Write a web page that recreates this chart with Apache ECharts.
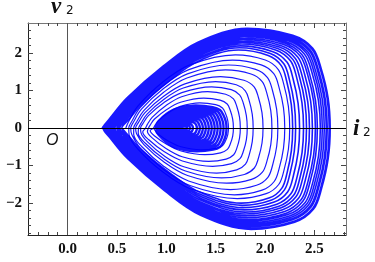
<!DOCTYPE html>
<html><head><meta charset="utf-8">
<script src="https://cdn.jsdelivr.net/npm/echarts@6/dist/echarts.min.js"></script>
<style>html,body{margin:0;padding:0;background:#fff}#c{width:375px;height:262px}</style>
</head><body><div id="c"></div>
<script>
// Loop extents of the trajectory (outer band, middle loops, core)
const iLeft = [0.35,0.36,0.37,0.375,0.385,0.40,0.41,0.42,0.435,0.45,0.465,0.48,0.50,0.515,0.53,0.55,
  0.59,0.62,0.64,0.67,0.69,0.72,0.74,0.79,0.82,0.87,
  0.89,0.91,0.93,0.95,0.97,0.99,1.01,1.03,1.05,1.07,1.09,1.11,1.13,1.15];
const iRight = [2.66,2.65,2.63,2.62,2.60,2.58,2.56,2.53,2.51,2.48,2.45,2.42,2.39,2.35,2.31,2.28,
  2.25,2.20,2.13,2.07,1.98,1.88,1.82,1.75,1.68,1.63,
  1.61,1.58,1.55,1.52,1.49,1.46,1.43,1.40,1.37,1.34,1.31,1.27,1.24,1.21];
const vTop = [2.66,2.63,2.60,2.57,2.54,2.51,2.47,2.44,2.40,2.36,2.32,2.28,2.24,2.19,2.14,2.08,
  1.95,1.81,1.68,1.55,1.37,1.24,1.10,0.97,0.80,0.67,
  0.60,0.56,0.52,0.48,0.44,0.40,0.36,0.32,0.27,0.22,0.17,0.12,0.08,0.04];
const vBottom = [-2.70,-2.67,-2.63,-2.60,-2.56,-2.52,-2.48,-2.44,-2.39,-2.34,-2.29,-2.24,-2.18,-2.12,-2.06,-2.00,
  -1.88,-1.78,-1.64,-1.47,-1.33,-1.20,-1.02,-0.89,-0.71,-0.58,
  -0.62,-0.57,-0.53,-0.48,-0.44,-0.40,-0.36,-0.31,-0.27,-0.22,-0.17,-0.12,-0.08,-0.04];
const iAtTop = [1.82,1.82,1.81,1.81,1.80,1.80,1.79,1.79,1.78,1.78,1.77,1.77,1.76,1.75,1.74,1.73,
  1.70,1.67,1.63,1.60,1.55,1.50,1.46,1.42,1.38,1.34,
  1.30,1.29,1.28,1.27,1.26,1.25,1.24,1.23,1.22,1.21,1.20,1.19,1.18,1.18];
const iAtBottom = [1.86,1.86,1.85,1.85,1.84,1.84,1.83,1.83,1.82,1.81,1.80,1.80,1.79,1.78,1.77,1.76,
  1.72,1.69,1.65,1.61,1.56,1.51,1.47,1.43,1.39,1.35,
  1.31,1.30,1.29,1.28,1.27,1.26,1.25,1.24,1.23,1.22,1.21,1.20,1.19,1.18];

const xMajorTicks = [0, 0.5, 1, 1.5, 2, 2.5];
const xMinorTicks = [-0.3,-0.2,-0.1,0.1,0.2,0.3,0.4,0.6,0.7,0.8,0.9,1.1,1.2,1.3,1.4,1.6,1.7,1.8,1.9,2.1,2.2,2.3,2.4,2.6,2.7,2.8];
const yMajorTicks = [-2, -1, 0, 1, 2];
const yMinorTicks = [-2.8,-2.6,-2.4,-2.2,-1.8,-1.6,-1.4,-1.2,-0.8,-0.6,-0.4,-0.2,0.2,0.4,0.6,0.8,1.2,1.4,1.6,1.8,2.2,2.4,2.6];

// one revolution through the read extents; sh = pointedness of the left end (shape only)
const rightShape = [[0.93,0.45],[0.8,0.21],[0.6,0.11],[0.3,0.025]];
function loopPoints(k, sh) {
  const L = iLeft[k], R = iRight[k], T = vTop[k], B = vBottom[k], tx = iAtTop[k], bx = iAtBottom[k];
  const up = [[L,0]], dn = [];
  [[0.1,sh[0]],[0.3,sh[1]],[0.62,sh[2]],[0.86,sh[3]]].forEach(([f,s]) => { up.push([L+s*(tx-L), f*T]); dn.unshift([L+s*(bx-L), f*B]); });
  const ru = rightShape.map(([f,s]) => [R-s*(R-tx), f*T]);
  const rd = rightShape.slice().reverse().map(([f,s]) => [R-s*(R-bx), f*B]);
  return up.concat([[tx,T]], ru, [[R,0]], rd, [[bx,B]], dn);
}
function path(from, to, sh) {
  let pts = [];
  for (let k = from; k < to; k++) pts = pts.concat(loopPoints(k, sh));
  pts.push([iLeft[to - 1], 0]);
  return pts;
}

const chart = echarts.init(document.getElementById('c'), null, {renderer: 'canvas'});
const X = {min: -0.4, max: 2.82}, Y = {min: -2.85, max: 2.8};
const lbl = {fontFamily: 'Liberation Serif', fontWeight: 'bold', fontSize: 15, color: '#111'};
function xa(pos, ticks, len, labels, lineColor) {
  return {type: 'value', position: pos, min: X.min, max: X.max, splitLine: {show: false},
    axisLine: {show: !!lineColor, onZero: false, lineStyle: {color: lineColor || '#000', width: 1}},
    axisTick: {show: true, inside: true, length: len, customValues: ticks, lineStyle: {color: '#444'}},
    axisLabel: labels ? Object.assign({show: true, customValues: ticks, margin: 7, formatter: v => v.toFixed(1)}, lbl) : {show: false}};
}
function ya(pos, ticks, len, labels, lineColor) {
  return {type: 'value', position: pos, min: Y.min, max: Y.max, splitLine: {show: false},
    axisLine: {show: !!lineColor, onZero: false, lineStyle: {color: lineColor || '#000', width: 1}},
    axisTick: {show: true, inside: true, length: len, customValues: ticks, lineStyle: {color: '#444'}},
    axisLabel: labels ? Object.assign({show: true, customValues: ticks, margin: 6, formatter: v => v < 0 ? '\u2212' + Math.abs(v) : String(v)}, lbl) : {show: false}};
}
const lineCol = 'rgba(0,0,255,0.9)';
chart.setOption({
  animation: false,
  grid: {left: 28, right: 29, top: 23, bottom: 27, show: false},
  xAxis: [xa('bottom', xMajorTicks, 5, true, '#222'), xa('bottom', xMinorTicks, 3, false), xa('top', xMajorTicks, 5, false, '#777'), xa('top', xMinorTicks, 3, false)],
  yAxis: [ya('left', yMajorTicks, 5, true, '#222'), ya('left', yMinorTicks, 3, false), ya('right', yMajorTicks, 5, false, '#777'), ya('right', yMinorTicks, 3, false)],
  series: [
    {type: 'line', data: path(0, 16, [0.055,0.17,0.42,0.66]), smooth: 0.35, symbol: 'none', lineStyle: {color: lineCol, width: 1.6}},
    {type: 'line', data: path(16, 26, [0.03,0.11,0.33,0.58]), smooth: 0.35, symbol: 'none', lineStyle: {color: lineCol, width: 1.2}},
    {type: 'line', data: path(26, 40, [0.02,0.08,0.27,0.52]), smooth: 0.35, symbol: 'none', lineStyle: {color: lineCol, width: 2.4},
      markLine: {silent: true, symbol: 'none', z: 10, label: {show: false},
        data: [{xAxis: 0, lineStyle: {color: '#555', width: 1, type: 'solid'}}, {yAxis: 0, lineStyle: {color: '#000', width: 1.2, type: 'solid'}}]}}
  ],
  graphic: [
    {type: 'text', left: 51, top: -4, style: {text: 'v', font: 'italic bold 23px "Liberation Serif"', fill: '#111'}},
    {type: 'text', left: 66, top: 5, style: {text: '2', font: '12px "DejaVu Sans"', fill: '#111'}},
    {type: 'text', left: 353, top: 118, style: {text: 'i', font: 'italic bold 23px "Liberation Serif"', fill: '#111'}},
    {type: 'text', left: 363, top: 127, style: {text: '2', font: '12px "DejaVu Sans"', fill: '#111'}},
    {type: 'text', left: 46, top: 133, style: {text: 'O', font: 'italic 16px "Liberation Sans"', fill: '#111'}}
  ]
});
</script></body></html>
